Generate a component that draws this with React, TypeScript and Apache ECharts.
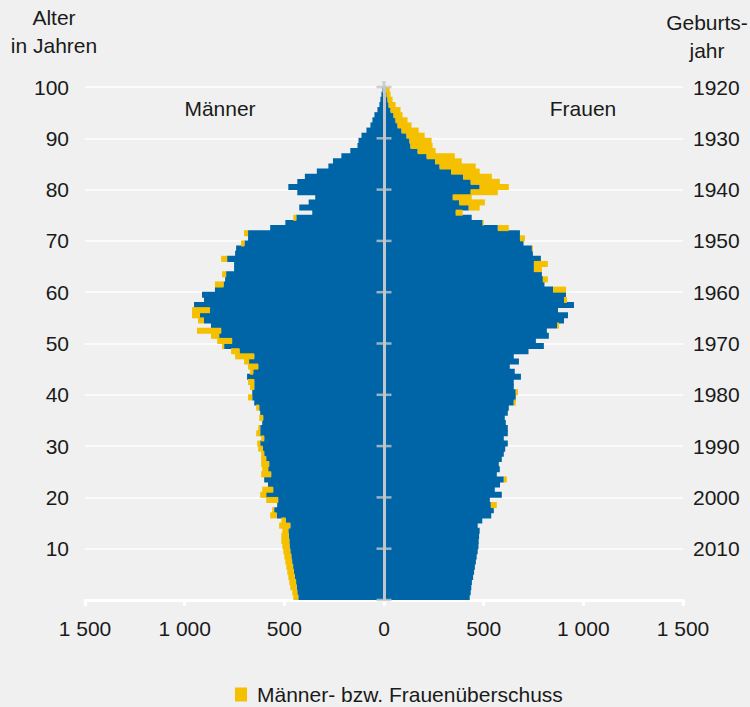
import React, { useEffect, useRef } from 'react';
import * as echarts from 'echarts';

// Ages 0..99 (one bar per year of age)
const ages: string[] = Array.from({ length: 100 }, (_, i) => String(i));

// Men by age (thousands)
const men: number[] = [
  455, 460, 470, 475, 480, 485, 490, 495, 500, 505,
  510, 515, 515, 510, 526, 515, 571, 561, 536, 591,
  621, 611, 582, 601, 616, 611, 616, 616, 616, 631,
  636, 616, 641, 631, 611, 626, 621, 641, 651, 682,
  661, 672, 682, 687, 672, 682, 702, 747, 767, 812,
  837, 868, 938, 868, 933, 963, 963, 953, 903, 913,
  848, 848, 797, 812, 752, 752, 817, 747, 742, 717,
  682, 702, 571, 495, 455, 360, 425, 378, 345, 435,
  480, 435, 397, 337, 279, 256, 214, 169, 133, 128,
  113, 88, 68, 58, 48, 33, 23, 18, 13, 8,
];

// Women by age (thousands)
const women: number[] = [
  430, 435, 438, 441, 447, 452, 456, 461, 465, 470,
  474, 475, 477, 480, 470, 493, 538, 551, 566, 531,
  591, 556, 582, 616, 566, 581, 576, 591, 601, 608,
  621, 601, 621, 621, 611, 606, 621, 626, 661, 661,
  672, 651, 651, 687, 656, 631, 677, 651, 725, 802,
  762, 827, 817, 878, 903, 923, 873, 953, 918, 913,
  913, 805, 822, 792, 792, 822, 787, 747, 747, 700,
  707, 682, 626, 500, 440, 395, 480, 506, 440, 571,
  626, 581, 541, 480, 460, 390, 355, 259, 244, 239,
  204, 174, 138, 118, 93, 83, 58, 43, 33, 28,
];

const ageTicks: number[] = [0, 10, 20, 30, 40, 50, 60, 70, 80, 90, 100];
const ageLabels: string[] = ['', '10', '20', '30', '40', '50', '60', '70', '80', '90', '100'];
const yearLabels: string[] = ['', '2010', '2000', '1990', '1980', '1970', '1960', '1950', '1940', '1930', '1920'];

const LEGEND_NAME = 'Männer- bzw. Frauenüberschuss';
const BLUE = '#0065a6';
const YELLOW = '#f4c000';
const BG = '#eff0ef';
const TXT = '#1a1a1a';
const GRAYLINE = '#c2c6ca';
const FONT = '"Liberation Sans", Arial, Helvetica, sans-serif';
const FS = 21;

function fmtThousands(v: number): string {
  const a = Math.abs(v);
  if (a >= 1000) {
    return `${Math.floor(a / 1000)} ${String(a % 1000).padStart(3, '0')}`;
  }
  return String(a);
}

export default function App() {
  const ref = useRef<HTMLDivElement>(null);

  useEffect(() => {
    if (!ref.current) return;
    const chart = echarts.init(ref.current, undefined, { renderer: 'svg' });

    const common = men.map((m, i) => Math.min(m, women[i]));
    const menBlue = common.map((c) => -c);
    const menSurplus = men.map((m, i) => -(m - common[i]));
    const womenBlue = common.slice();
    const womenSurplus = women.map((w, i) => w - common[i]);

    const barBase = {
      type: 'bar',
      stack: 'pyr',
      yAxisIndex: 0,
      xAxisIndex: 0,
      barWidth: '118%',
      silent: true,
    };

    const tickData: any[] = ageTicks.map((a) => ({ value: [0, a] }));
    // vertical stub above the 100 line
    tickData.push({ value: [0, 100], symbolSize: [3, 12] });

    const option: any = {
      animation: false,
      backgroundColor: BG,
      textStyle: { fontFamily: FONT },
      grid: { left: 85, right: 67, top: 87, bottom: 107, containLabel: false },
      legend: {
        show: true,
        data: [{ name: LEGEND_NAME, icon: 'rect' }],
        left: 230,
        top: 679,
        itemWidth: 12,
        itemHeight: 14,
        selectedMode: false,
        textStyle: { color: TXT, fontSize: FS, fontFamily: FONT, padding: [0, 0, 0, 5] },
      },
      xAxis: {
        type: 'value',
        min: -1500,
        max: 1500,
        interval: 500,
        axisLine: { show: true, onZero: false, lineStyle: { color: '#ffffff', width: 3, cap: 'round' } },
        axisTick: { show: true, length: 6, lineStyle: { color: '#ffffff', width: 3 } },
        axisLabel: { formatter: fmtThousands, margin: 18, color: TXT, fontSize: FS, fontFamily: FONT },
        splitLine: { show: false },
      },
      yAxis: [
        {
          type: 'category',
          data: ages,
          show: false,
        },
        {
          type: 'value',
          min: 0,
          max: 100,
          interval: 10,
          position: 'left',
          axisLine: { show: false },
          axisTick: { show: false },
          axisLabel: {
            formatter: (v: number) => ageLabels[ageTicks.indexOf(v)] ?? '',
            margin: 16,
            color: TXT,
            fontSize: FS,
            fontFamily: FONT,
          },
          splitLine: { show: true, lineStyle: { color: '#ffffff', width: 1.5 } },
        },
        {
          type: 'value',
          min: 0,
          max: 100,
          interval: 10,
          position: 'right',
          axisLine: { show: false },
          axisTick: { show: false },
          axisLabel: {
            formatter: (v: number) => yearLabels[ageTicks.indexOf(v)] ?? '',
            margin: 10,
            color: TXT,
            fontSize: FS,
            fontFamily: FONT,
          },
          splitLine: { show: false },
        },
      ],
      series: [
        { ...barBase, name: 'Männer', data: menBlue, itemStyle: { color: BLUE } },
        { ...barBase, name: LEGEND_NAME, data: menSurplus, itemStyle: { color: YELLOW } },
        { ...barBase, name: 'Frauen', data: womenBlue, itemStyle: { color: BLUE } },
        { ...barBase, name: LEGEND_NAME, data: womenSurplus, itemStyle: { color: YELLOW } },
        {
          type: 'scatter',
          name: 'ticks',
          xAxisIndex: 0,
          yAxisIndex: 1,
          z: 6,
          silent: true,
          clip: false,
          symbol: 'rect',
          symbolSize: [15, 2.5],
          itemStyle: { color: GRAYLINE },
          data: tickData,
          markLine: {
            silent: true,
            symbol: 'none',
            label: { show: false },
            lineStyle: { color: GRAYLINE, width: 3, type: 'solid' },
            data: [[{ coord: [0, 0] }, { coord: [0, 100] }]],
          },
        },
      ],
      graphic: [
        { type: 'text', x: 54, y: 17, style: { text: 'Alter', fill: TXT, font: `${FS}px ${FONT}`, textAlign: 'center', textVerticalAlign: 'middle' } },
        { type: 'text', x: 54, y: 45, style: { text: 'in Jahren', fill: TXT, font: `${FS}px ${FONT}`, textAlign: 'center', textVerticalAlign: 'middle' } },
        { type: 'text', x: 707, y: 22, style: { text: 'Geburts-', fill: TXT, font: `${FS}px ${FONT}`, textAlign: 'center', textVerticalAlign: 'middle' } },
        { type: 'text', x: 707, y: 50, style: { text: 'jahr', fill: TXT, font: `${FS}px ${FONT}`, textAlign: 'center', textVerticalAlign: 'middle' } },
        { type: 'text', x: 220, y: 108, style: { text: 'Männer', fill: TXT, font: `${FS}px ${FONT}`, textAlign: 'center', textVerticalAlign: 'middle' } },
        { type: 'text', x: 583, y: 108, style: { text: 'Frauen', fill: TXT, font: `${FS}px ${FONT}`, textAlign: 'center', textVerticalAlign: 'middle' } },
      ],
    };

    chart.setOption(option);
    return () => {
      chart.dispose();
    };
  }, []);

  return (
    <div
      ref={ref}
      style={{ position: 'fixed', left: 0, top: 0, width: 750, height: 707, background: BG }}
    />
  );
}
